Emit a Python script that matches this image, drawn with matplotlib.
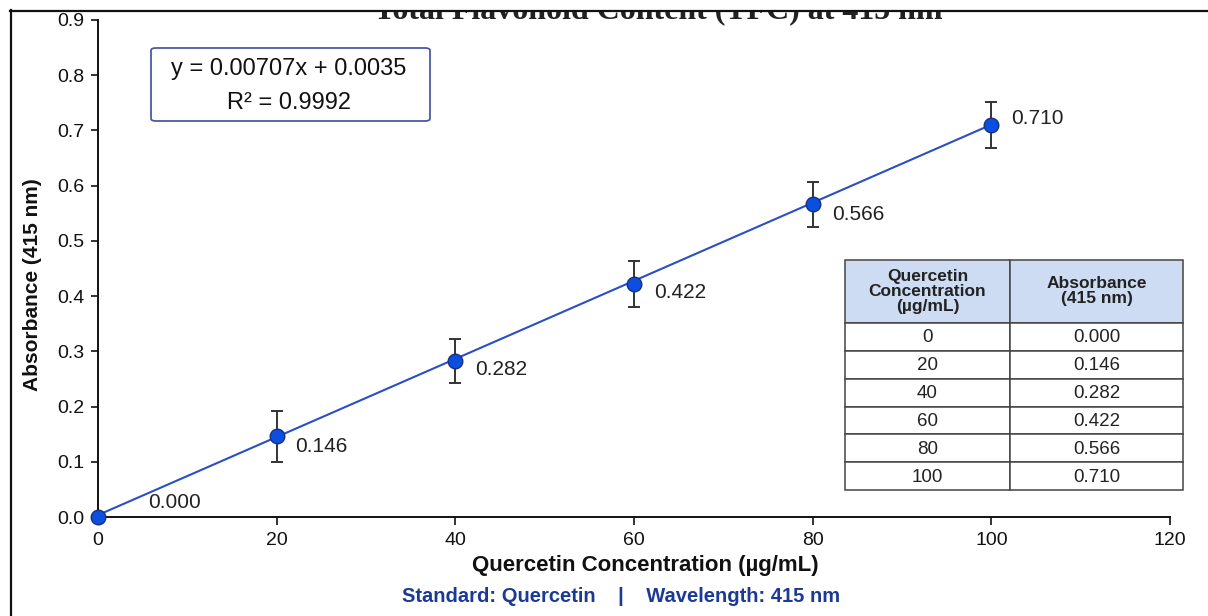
import matplotlib
matplotlib.use("Agg")
import matplotlib.pyplot as plt
from matplotlib.patches import FancyBboxPatch, Rectangle
from matplotlib.lines import Line2D

# ---------------- data ----------------
concentration = [0, 20, 40, 60, 80, 100]
absorbance = [0.000, 0.146, 0.282, 0.422, 0.566, 0.710]
abs_error = [0.0, 0.046, 0.040, 0.042, 0.041, 0.041]
fit_slope = 0.00707
fit_intercept = 0.0035
r_squared = 0.9992
x_ticks = [0, 20, 40, 60, 80, 100, 120]
y_ticks = [0.0, 0.1, 0.2, 0.3, 0.4, 0.5, 0.6, 0.7, 0.8, 0.9]
table_header = ["Quercetin\nConcentration\n(µg/mL)", "Absorbance\n(415 nm)"]
title_text = "Total Flavonoid Content (TFC) at 415 nm"
xlabel_text = "Quercetin Concentration (µg/mL)"
ylabel_text = "Absorbance (415 nm)"
subtitle_text = "Standard: Quercetin    |    Wavelength: 415 nm"

# label offsets (pixels, dx right, dy down)
label_offsets = [(50, -14), (18, 10), (20, 8), (20, 9), (19, 10), (20, -6)]

SANS = ["Liberation Sans", "DejaVu Sans"]
SERIF = ["Liberation Serif", "DejaVu Serif"]
plt.rcParams["font.family"] = SANS

W, H = 1208, 616
fig = plt.figure(figsize=(W / 100, H / 100), dpi=100)
fig.patch.set_facecolor("white")

ax_left, ax_right, ax_top, ax_bottom = 98, 1170, 20, 517
ax = fig.add_axes([ax_left / W, 1 - ax_bottom / H,
                   (ax_right - ax_left) / W, (ax_bottom - ax_top) / H])
ax.set_xlim(0, 120)
ax.set_ylim(0, 0.9)
for s in ["top", "right"]:
    ax.spines[s].set_visible(False)
for s in ["left", "bottom"]:
    ax.spines[s].set_linewidth(1.4)
    ax.spines[s].set_color("#111111")
ax.set_xticks(x_ticks)
ax.set_yticks(y_ticks)
ax.set_xticklabels([str(v) for v in x_ticks])
ax.set_yticklabels([f"{v:.1f}" for v in y_ticks])
ax.tick_params(axis="x", direction="out", length=6, width=1.2, labelsize=14,
               colors="#111111", pad=5)
ax.tick_params(axis="y", direction="out", length=5, width=1.2, labelsize=14,
               colors="#111111", pad=5)
ax.patch.set_alpha(0)

# fit line
fit_x = [concentration[0], concentration[-1]]
fit_y = [fit_slope * v + fit_intercept for v in fit_x]
ax.plot(fit_x, fit_y, color="#2a4fc4", lw=1.5, zorder=2, clip_on=False)

# error bars
ax.errorbar(concentration, absorbance, yerr=abs_error, fmt="none",
            ecolor="#333333", elinewidth=1.4, capsize=4, capthick=1.4,
            zorder=3, clip_on=False)
# points
ax.plot(concentration, absorbance, "o", ms=10.5, mfc="#0b4fe0",
        mec="#1a2f80", mew=1.0, zorder=4, clip_on=False)

# value labels
for xv, yv, (dx, dy) in zip(concentration, absorbance, label_offsets):
    ax.annotate(f"{yv:.3f}", (xv, yv), xytext=(dx * 0.72, -dy * 0.72),
                textcoords="offset points", ha="left", va="center",
                fontsize=15, color="#222222", zorder=5)

# axis labels
fig.text(645 / W, 1 - 566 / H, xlabel_text, ha="center", va="center",
         fontsize=16, fontweight="bold", color="#111111")
fig.text(33 / W, 1 - 285 / H, ylabel_text, ha="center", va="center",
         rotation=90, fontsize=15, fontweight="bold", color="#111111")
fig.text(621 / W, 1 - 597 / H, subtitle_text, ha="center", va="center",
         fontsize=14.5, fontweight="bold", color="#1c3a95")

# equation box
bx0, by0, bx1, by1 = 151, 48, 430, 121
box = FancyBboxPatch((bx0 / W, 1 - by1 / H), (bx1 - bx0) / W, (by1 - by0) / H,
                     boxstyle="round,pad=0,rounding_size=0.004",
                     transform=fig.transFigure, facecolor="white",
                     edgecolor="#4b5aa5", lw=1.3, zorder=6)
fig.add_artist(box)
fig.text(289 / W, 1 - 69 / H,
         f"y = {fit_slope:.5f}x + {fit_intercept:.4f}", ha="center",
         va="center", fontsize=17, color="#111111", zorder=7)
fig.text(289 / W, 1 - 103 / H, f"R² = {r_squared:.4f}",
         ha="center", va="center", fontsize=17, color="#111111", zorder=7)

# table
col_edges = [845, 1010, 1183]
header_top, header_bot = 260, 323
row_h = (490 - header_bot) / len(concentration)
edge_c = "#444444"
for ci in range(2):
    x0, x1 = col_edges[ci], col_edges[ci + 1]
    fig.add_artist(Rectangle((x0 / W, 1 - header_bot / H), (x1 - x0) / W,
                             (header_bot - header_top) / H,
                             transform=fig.transFigure, facecolor="#cddcf3",
                             edgecolor=edge_c, lw=1.1, zorder=6))
    fig.text((x0 + x1) / 2 / W, 1 - (header_top + header_bot) / 2 / H,
             table_header[ci], ha="center", va="center", fontsize=12.5,
             fontweight="bold", color="#222222", linespacing=1.0, zorder=7)
    for ri, (cv, av) in enumerate(zip(concentration, absorbance)):
        ry0 = header_bot + ri * row_h
        fig.add_artist(Rectangle((x0 / W, 1 - (ry0 + row_h) / H), (x1 - x0) / W,
                                 row_h / H, transform=fig.transFigure,
                                 facecolor="white", edgecolor=edge_c, lw=1.1,
                                 zorder=6))
        txt = str(cv) if ci == 0 else f"{av:.3f}"
        fig.text((x0 + x1) / 2 / W, 1 - (ry0 + row_h / 2 + 1) / H, txt,
                 ha="center", va="center", fontsize=13.5, color="#222222",
                 zorder=7)

# clipped title behind the frame (as in the reference)
fig.text(658 / W, 1 - 18 / H, title_text, ha="center", va="baseline",
         fontsize=23, fontweight="bold", color="#222222", family=SERIF,
         zorder=1)
fig.add_artist(Rectangle((0, 1 - 10 / H), 1, 10 / H, transform=fig.transFigure,
                         facecolor="white", edgecolor="none", zorder=8))
fig.add_artist(Line2D([10 / W, 1], [1 - 10.5 / H, 1 - 10.5 / H],
                      transform=fig.transFigure, color="#111111", lw=1.6,
                      zorder=9))
fig.add_artist(Line2D([10.5 / W, 10.5 / W], [0, 1 - 10 / H],
                      transform=fig.transFigure, color="#111111", lw=1.6,
                      zorder=9))

fig.savefig("out.png", dpi=100, facecolor="white")
